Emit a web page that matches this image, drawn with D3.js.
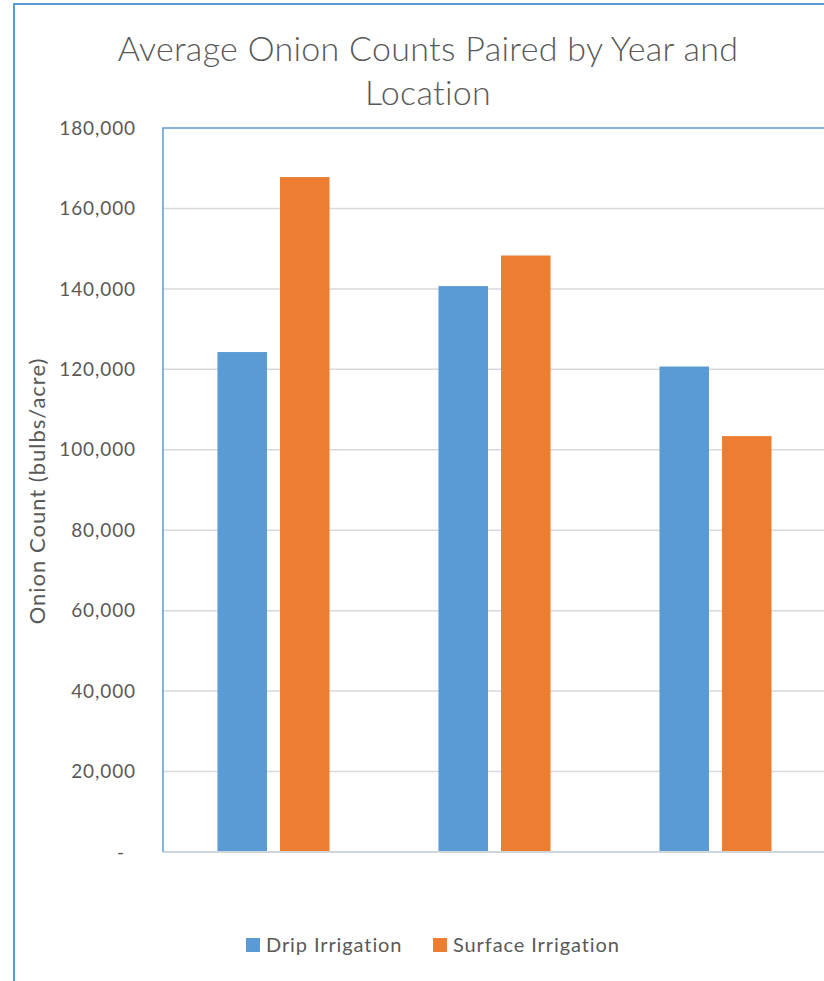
<!DOCTYPE html>
<html>
<head>
<meta charset="utf-8">
<script src="https://cdn.jsdelivr.net/npm/d3@7/dist/d3.min.js"></script>
<style>
  html, body { margin: 0; padding: 0; background: #fff; }
  svg { display: block; }
  text { font-family: Lato, "Open Sans", "Liberation Sans", sans-serif; fill: #595959; }
</style>
</head>
<body>
<svg id="chart" width="824" height="981"></svg>
<script>
// Chart data
const groups = ["Group 1", "Group 2", "Group 3"];
const seriesNames = ["Drip Irrigation", "Surface Irrigation"];
const dripValues = [124300, 140700, 120700];
const surfaceValues = [167800, 148300, 103400];
const yTicks = [0, 20000, 40000, 60000, 80000, 100000, 120000, 140000, 160000, 180000];
const titleLines = ["Average Onion Counts Paired by Year and", "Location"];
const yAxisTitle = "Onion Count (bulbs/acre)";

const colors = { "Drip Irrigation": "#5b9bd5", "Surface Irrigation": "#ed7d31" };
const frameBlue = "#5b9bd5";

const svg = d3.select("#chart");

// Outer chart frame (runs off the right and bottom of the page)
svg.append("rect")
  .attr("x", 14).attr("y", 4)
  .attr("width", 900).attr("height", 1100)
  .attr("fill", "#fff")
  .attr("stroke", frameBlue).attr("stroke-width", 2);

// Plot area
const plot = { left: 163, top: 128, right: 826, bottom: 852 };

const x0 = d3.scaleBand().domain(groups).range([plot.left, plot.right]).paddingInner(0).paddingOuter(0);
const y = d3.scaleLinear().domain([0, 180000]).range([plot.bottom, plot.top]);

// Within each group: two bars of ~49.5px with a ~13px gap
const barW = x0.bandwidth() * 0.224;
const innerGap = x0.bandwidth() * 0.059;

// Gridlines
svg.append("g").selectAll("line")
  .data(yTicks.filter(d => d > 0 && d < 180000))
  .join("line")
  .attr("x1", plot.left).attr("x2", plot.right)
  .attr("y1", d => y(d)).attr("y2", d => y(d))
  .attr("stroke", "#d9d9d9").attr("stroke-width", 1.5);

// Y tick labels
const fmt = d3.format(",");
svg.append("g").selectAll("text")
  .data(yTicks)
  .join("text")
  .attr("x", d => d === 0 ? 125 : 136)
  .attr("y", d => y(d))
  .attr("dy", "0.35em")
  .attr("text-anchor", "end")
  .style("font-size", "19px")
  .style("letter-spacing", "0.9px")
  .text(d => d === 0 ? "-" : fmt(d));

// Bars
const rows = groups.map((g, i) => ({ group: g, values: [dripValues[i], surfaceValues[i]] }));
const gBars = svg.append("g");
rows.forEach(r => {
  const cx = x0(r.group) + x0.bandwidth() / 2;
  r.values.forEach((v, j) => {
    const bx = j === 0 ? cx - innerGap / 2 - barW : cx + innerGap / 2;
    gBars.append("rect")
      .attr("x", bx)
      .attr("y", y(v))
      .attr("width", barW)
      .attr("height", y(0) - y(v))
      .attr("fill", colors[seriesNames[j]]);
  });
});

// Category axis baseline
svg.append("line")
  .attr("x1", plot.left).attr("x2", plot.right)
  .attr("y1", y(0)).attr("y2", y(0))
  .attr("stroke", "#d0d5d9").attr("stroke-width", 2);

// Plot-area border (left and top)
svg.append("path")
  .attr("d", `M${plot.left},${plot.bottom} V${plot.top} H${plot.right + 10}`)
  .attr("fill", "none")
  .attr("stroke", frameBlue).attr("stroke-width", 1.5);

// Title
const title = svg.append("text")
  .attr("text-anchor", "middle")
  .style("font-size", "34px")
  .style("font-weight", 300)
  .style("letter-spacing", "0.3px");
title.selectAll("tspan")
  .data(titleLines)
  .join("tspan")
  .attr("x", 428)
  .attr("y", (d, i) => 61 + i * 44)
  .text(d => d);

// Y axis title
svg.append("text")
  .attr("transform", `translate(45,491) rotate(-90)`)
  .attr("text-anchor", "middle")
  .style("font-size", "22px")
  .style("letter-spacing", "1px")
  .text(yAxisTitle);

// Legend
const legendItems = [
  { name: seriesNames[0], x: 246 },
  { name: seriesNames[1], x: 433 }
];
const lg = svg.append("g");
legendItems.forEach(it => {
  lg.append("rect")
    .attr("x", it.x).attr("y", 938)
    .attr("width", 14).attr("height", 14)
    .attr("fill", colors[it.name]);
  lg.append("text")
    .attr("x", it.x + 20).attr("y", 945)
    .attr("dy", "0.35em")
    .style("font-size", "20px")
    .style("letter-spacing", "0.9px")
    .text(it.name);
});
</script>
</body>
</html>
